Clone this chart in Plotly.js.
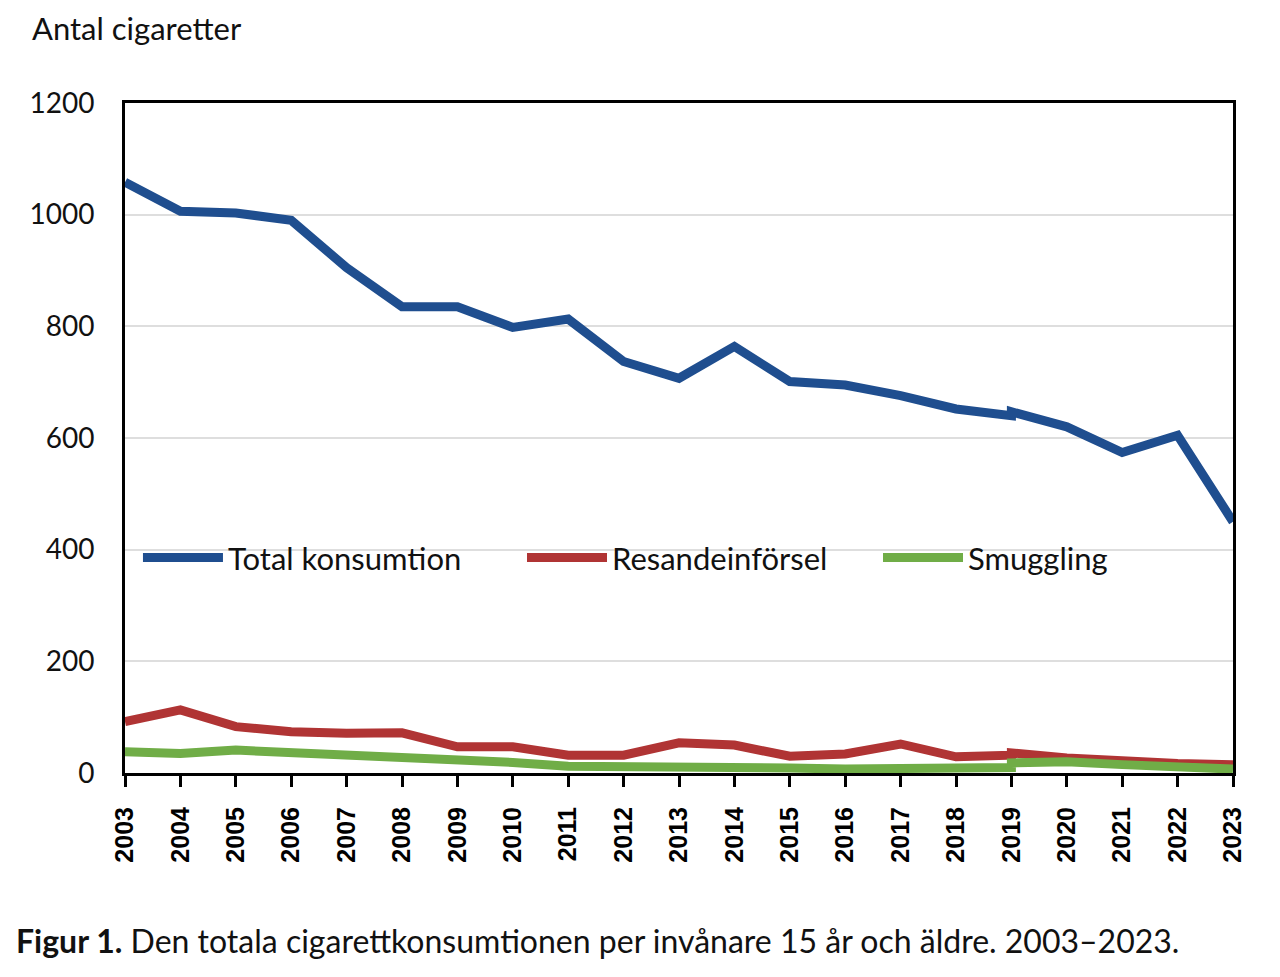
<!DOCTYPE html>
<html>
<head>
<meta charset="utf-8">
<script src="https://cdn.plot.ly/plotly-3.0.1.min.js"></script>
<style>
html,body{margin:0;padding:0;background:#fff;}
#chart{width:1280px;height:977px;}
</style>
</head>
<body>
<div id="chart"></div>
<script>
// Years (2019 appears twice: series break between old and new method)
const years = [2003,2004,2005,2006,2007,2008,2009,2010,2011,2012,2013,2014,2015,2016,2017,2018,2019,2019,2020,2021,2022,2023];
const totalKonsumtion = [1058,1006,1003,990,905,835,835,798,813,737,707,764,701,695,676,652,640,647,620,574,605,450];
const resandeinforsel = [92,113,83,74,71,72,47,47,32,32,54,50,30,34,52,29,32,36,27,21,17,15];
const smuggling = [38,35,41,37,34,28,25,19,12,12,11,10,9,7,7,7,10,18,20,15,9,7];
const xTicks = [2003,2004,2005,2006,2007,2008,2009,2010,2011,2012,2013,2014,2015,2016,2017,2018,2019,2020,2021,2022,2023];
const yTicks = [0,200,400,600,800,1000,1200];

const FONT = 'Lato, "Open Sans", sans-serif';
const TICKFONT = '"Liberation Sans", Arial, sans-serif';

const traces = [
  {x: years, y: totalKonsumtion, name: 'Total konsumtion', type: 'scatter', mode: 'lines',
   line: {color: '#1f4e8f', width: 9}, legend: 'legend'},
  {x: years, y: resandeinforsel, name: 'Resandeinförsel', type: 'scatter', mode: 'lines',
   line: {color: '#b03434', width: 9}, legend: 'legend2'},
  {x: years, y: smuggling, name: 'Smuggling', type: 'scatter', mode: 'lines',
   line: {color: '#70ad47', width: 9}, legend: 'legend3'}
];

function leg(x) {
  return {
    orientation: 'h', x: x, y: 0.321, xanchor: 'left', yanchor: 'middle',
    font: {size: 31, family: FONT, color: '#111'},
    itemwidth: 80, bgcolor: 'rgba(0,0,0,0)'
  };
}

const layout = {
  width: 1280, height: 977,
  margin: {l: 125, r: 47, t: 103, b: 204},
  paper_bgcolor: '#fff', plot_bgcolor: '#fff',
  font: {family: FONT, color: '#111'},
  showlegend: true,
  legend: leg(0.0117),
  legend2: leg(0.3583),
  legend3: leg(0.6796),
  xaxis: {
    range: [2003, 2023], tickmode: 'array', tickvals: xTicks, ticktext: xTicks.map(String),
    tickangle: -90, ticks: 'outside', ticklen: 11, tickwidth: 3, tickcolor: '#000',
    ticklabelstandoff: 10,
    tickfont: {size: 25, family: TICKFONT, color: '#000', weight: 'bold'},
    showline: true, linecolor: '#000', linewidth: 3, mirror: true,
    showgrid: false, zeroline: false, fixedrange: true
  },
  yaxis: {
    range: [0, 1200], tickmode: 'array', tickvals: yTicks, ticktext: yTicks.map(String),
    ticks: '', ticklabelstandoff: 22,
    tickfont: {size: 28, family: FONT, color: '#111'},
    showline: true, linecolor: '#000', linewidth: 3, mirror: true,
    showgrid: true, gridcolor: '#dedede', gridwidth: 2, zeroline: false, fixedrange: true
  },
  annotations: [
    {xref: 'paper', yref: 'paper', x: -0.086, y: 1.112, xanchor: 'left', yanchor: 'middle',
     text: 'Antal cigaretter', showarrow: false, font: {size: 31, family: FONT, color: '#111'}},
    {xref: 'paper', yref: 'paper', x: -0.1, y: -0.25, xanchor: 'left', yanchor: 'middle',
     text: '<b>Figur 1.</b> Den totala cigarettkonsumtionen per invånare 15 år och äldre. 2003–2023.',
     showarrow: false, font: {size: 32, family: FONT, color: '#111'}}
  ]
};

Plotly.newPlot('chart', traces, layout, {displayModeBar: false, staticPlot: true});
</script>
</body>
</html>
